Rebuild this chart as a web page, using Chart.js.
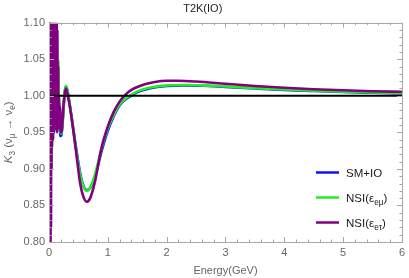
<!DOCTYPE html>
<html>
<head>
<meta charset="utf-8">
<script src="https://cdn.jsdelivr.net/npm/chart.js@4"></script>
<style>
  html, body { margin: 0; padding: 0; background: #fff; }
  canvas { display: block; }
</style>
</head>
<body>
<canvas id="myChart" width="409" height="278"></canvas>
<script>
// energies (GeV) shared by SM+IO and NSI(e mu)
const energySM = [0.003, 0.008, 0.013, 0.018, 0.024, 0.03, 0.037, 0.044, 0.052, 0.06,
  0.068, 0.077, 0.086, 0.095, 0.105, 0.115, 0.125, 0.135, 0.145, 0.153,
  0.16, 0.168, 0.178, 0.19, 0.21, 0.24, 0.265, 0.29, 0.32, 0.375,
  0.45, 0.53, 0.58, 0.64, 0.7, 0.78, 0.9, 1.0, 1.1, 1.2,
  1.3, 1.37, 1.5, 1.7, 2.0, 2.3, 2.6, 3.0, 3.5, 4.0,
  4.5, 5.0, 5.5, 6.0];

const smIO = [0.80, 1.15, 0.80, 1.12, 0.86, 1.10, 0.93, 1.08, 0.94, 1.06,
  0.95, 1.05, 0.95, 1.04, 0.955, 1.03, 0.955, 1.02, 0.96, 0.99,
  1.0, 0.955, 0.985, 0.945, 0.946, 0.972, 1.003, 1.013, 1.004, 0.976,
  0.934, 0.894, 0.878, 0.871, 0.874, 0.889, 0.926, 0.952, 0.972, 0.987,
  0.995, 0.999, 1.005, 1.010, 1.0135, 1.0142, 1.0138, 1.0122, 1.0100, 1.0080,
  1.0065, 1.0052, 1.0042, 1.0033];

const nsiEmu = [0.80, 1.15, 0.80, 1.15, 0.85, 1.12, 0.90, 1.10, 0.93, 1.08,
  0.95, 1.07, 0.955, 1.06, 0.96, 1.05, 0.96, 1.04, 0.965, 1.0,
  1.048, 0.96, 0.99, 0.95, 0.948, 0.975, 1.005, 1.0137, 1.005, 0.975,
  0.932, 0.892, 0.877, 0.870, 0.874, 0.892, 0.930, 0.955, 0.974, 0.988,
  0.996, 1.0, 1.006, 1.011, 1.0142, 1.0147, 1.0142, 1.0127, 1.0105, 1.0086,
  1.007, 1.0057, 1.0046, 1.0037];

// energies (GeV) for NSI(e tau)
const energyEtau = [0.002, 0.006, 0.010, 0.014, 0.018, 0.022, 0.026, 0.030,
  0.034, 0.038, 0.042, 0.046, 0.050,
  0.055, 0.060, 0.065, 0.070, 0.075, 0.080, 0.085, 0.090, 0.095,
  0.100, 0.106, 0.112, 0.118, 0.124, 0.130, 0.136, 0.142, 0.148,
  0.155, 0.162, 0.170, 0.178, 0.188, 0.198,
  0.21, 0.25, 0.29, 0.32, 0.375, 0.45, 0.53, 0.58, 0.64, 0.7, 0.78, 0.89,
  1.0, 1.1, 1.2, 1.28, 1.4, 1.6, 1.8,
  2.0, 2.2, 2.5, 3.0, 3.5, 4.0, 4.5, 5.0, 5.5, 6.0];

const nsiEtau = [0.80, 1.15, 0.80, 1.15, 0.80, 1.15, 0.80, 1.15,
  0.82, 1.15, 0.90, 1.15, 0.93,
  1.15, 0.96, 1.15, 0.94, 1.15, 0.97, 1.15, 0.955, 1.15,
  0.96, 1.15, 0.955, 1.15, 0.96, 1.15, 0.95, 1.09, 0.955,
  1.04, 0.96, 1.0, 0.955, 0.985, 0.95,
  0.95, 0.99, 1.010, 1.0, 0.975, 0.930, 0.880, 0.863, 0.855, 0.860, 0.882, 0.928,
  0.958, 0.978, 0.992, 1.0, 1.008, 1.015, 1.019,
  1.0205, 1.0205, 1.0195, 1.0165, 1.0135, 1.011, 1.009, 1.0075, 1.0063, 1.0055];

const refEnergy = [0, 6];
const refLine = [1, 1];

const yTicks = [0.80, 0.85, 0.90, 0.95, 1.00, 1.05, 1.10];

const font = "'Liberation Sans', Arial, sans-serif";

function pts(xs, ys) {
    return xs.map((x, i) => ({x: x, y: ys[i]}));
}

// draw a run of text pieces, some of them subscripts
function drawPieces(ctx, pieces, x, y, size) {
    for (const p of pieces) {
        const s = p.sub ? size * 0.72 : size;
        ctx.font = (p.italic ? 'italic ' : '') + s + 'px ' + font;
        ctx.fillText(p.t, x, y + (p.sub ? size * 0.28 : 0));
        x += ctx.measureText(p.t).width;
    }
    return x;
}
function piecesWidth(ctx, pieces, size) {
    let w = 0;
    for (const p of pieces) {
        const s = p.sub ? size * 0.72 : size;
        ctx.font = (p.italic ? 'italic ' : '') + s + 'px ' + font;
        w += ctx.measureText(p.t).width;
    }
    return w;
}

const legendItems = [
    {color: '#1010ff', pieces: [{t: 'SM+IO'}]},
    {color: '#22ee22', pieces: [{t: 'NSI(ε'}, {t: 'eμ', sub: true}, {t: ')'}]},
    {color: '#800080', pieces: [{t: 'NSI(ε'}, {t: 'eτ', sub: true}, {t: ')'}]}
];

const framePlugin = {
    id: 'frame',
    afterDatasetsDraw(chart) {
        const ctx = chart.ctx;
        const a = chart.chartArea;
        const xs = chart.scales.x, ys = chart.scales.y;
        ctx.save();
        ctx.strokeStyle = '#a8a8a8';
        ctx.lineWidth = 1;
        ctx.beginPath();
        for (let i = 0; i <= 30; i++) {
            const y = Math.round(ys.getPixelForValue(0.8 + i * 0.01)) + 0.5;
            const len = i % 5 === 0 ? 5 : 2.5;
            ctx.moveTo(a.left, y); ctx.lineTo(a.left + len, y);
            ctx.moveTo(a.right, y); ctx.lineTo(a.right - len, y);
        }
        for (let i = 0; i <= 30; i++) {
            const x = Math.round(xs.getPixelForValue(i * 0.2)) + 0.5;
            const len = i % 5 === 0 ? 5 : 2.5;
            ctx.moveTo(x, a.bottom); ctx.lineTo(x, a.bottom - len);
            ctx.moveTo(x, a.top); ctx.lineTo(x, a.top + len);
        }
        ctx.stroke();
        ctx.strokeRect(Math.round(a.left) + 0.5, Math.round(a.top) + 0.5,
            Math.round(a.width), Math.round(a.height));

        // legend
        ctx.textBaseline = 'alphabetic';
        ctx.textAlign = 'left';
        ctx.fillStyle = '#1a1a1a';
        const ly = [172.5, 197.5, 222.5];
        legendItems.forEach((it, i) => {
            ctx.strokeStyle = it.color;
            ctx.lineWidth = 2.5;
            ctx.beginPath();
            ctx.moveTo(316, ly[i]); ctx.lineTo(339, ly[i]);
            ctx.stroke();
            drawPieces(ctx, it.pieces, 346, ly[i] + 4, 11.5);
        });

        // y axis title
        const yPieces = [{t: 'K', italic: true}, {t: '3', sub: true}, {t: ' (ν'},
            {t: 'μ', sub: true}, {t: ' → ν'}, {t: 'e', sub: true}, {t: ')'}];
        ctx.translate(12, (a.top + a.bottom) / 2);
        ctx.rotate(-Math.PI / 2);
        ctx.fillStyle = '#666';
        const w = piecesWidth(ctx, yPieces, 11.5);
        drawPieces(ctx, yPieces, -w / 2, 0, 11.5);
        ctx.restore();
    }
};

const ctx = document.getElementById('myChart').getContext('2d');

new Chart(ctx, {
    type: 'line',
    data: {
        datasets: [
            {data: pts(refEnergy, refLine), borderColor: '#000', borderWidth: 2, order: -1},
            {data: pts(energyEtau, nsiEtau), borderColor: '#800080', borderWidth: 2.6, order: 0},
            {data: pts(energySM, nsiEmu), borderColor: '#22ee22', borderWidth: 2.6, order: 1},
            {data: pts(energySM, smIO), borderColor: '#1010ff', borderWidth: 2.6, order: 2}
        ]
    },
    options: {
        responsive: false,
        animation: false,
        parsing: false,
        layout: {padding: {left: 0, right: 3.5, top: 0, bottom: 0}},
        datasets: {line: {clip: 0, pointRadius: 0, cubicInterpolationMode: 'monotone', fill: false}},
        plugins: {
            legend: {display: false},
            tooltip: {enabled: false},
            title: {
                display: true,
                text: 'T2K(IO)',
                color: '#222',
                font: {family: font, size: 11, weight: 'normal'},
                padding: {top: 2.5, bottom: 7}
            }
        },
        scales: {
            x: {
                type: 'linear', min: 0, max: 6,
                grid: {display: false, drawTicks: false},
                border: {display: false},
                ticks: {stepSize: 1, padding: 4, color: '#666', font: {family: font, size: 11}, maxRotation: 0},
                title: {display: true, text: 'Energy(GeV)', color: '#666', font: {family: font, size: 11}, padding: {top: 0, bottom: 0}},
                afterFit(s) { s.height = 36; }
            },
            y: {
                type: 'linear', min: 0.8, max: 1.1,
                grid: {display: false, drawTicks: false},
                border: {display: false},
                afterBuildTicks(s) { s.ticks = yTicks.map(v => ({value: v})); },
                ticks: {padding: 4, color: '#666', font: {family: font, size: 11}, callback: v => v.toFixed(2)},
                afterFit(s) { s.width = 49; }
            }
        }
    },
    plugins: [framePlugin]
});
</script>
</body>
</html>
